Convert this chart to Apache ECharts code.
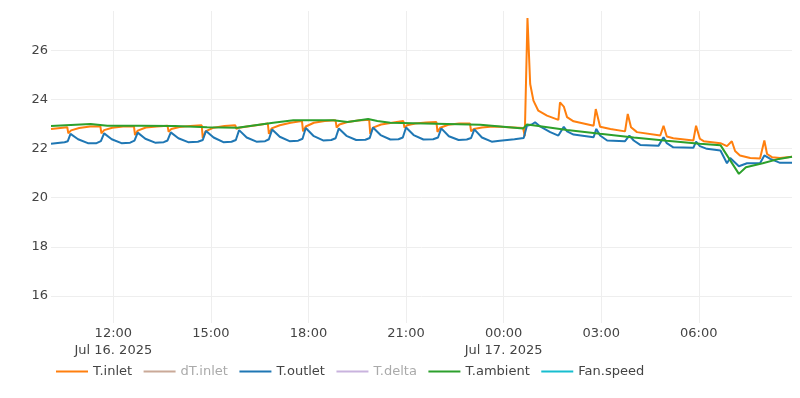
<!DOCTYPE html>
<html>
<head>
<meta charset="utf-8">
<title>temperatures</title>
<script src="https://cdn.jsdelivr.net/npm/echarts@6/dist/echarts.min.js"></script>
<style>
  html, body { margin: 0; padding: 0; background: #fff; }
  #main { width: 800px; height: 398px; }
</style>
</head>
<body>
<div id="main"></div>
<script>
var seriesNames = ['T.inlet', 'dT.inlet', 'T.outlet', 'T.delta', 'T.ambient', 'Fan.speed'];
var seriesColors = ['#ff7f0e', '#caa998', '#1f77b4', '#c9b3de', '#2ca02c', '#17becf'];
var hiddenNames = ['dT.inlet', 'T.delta'];
var xStart = '16 10:05';
var xEnd = '17 08:52';
var xTicks = ['16 12:00', '16 15:00', '16 18:00', '16 21:00', '17 00:00', '17 03:00', '17 06:00'];

// [day hh:mm, value]
var tInlet = [
  ['16 10:05', 22.80], ['16 10:35', 22.87],
  ['16 10:37', 22.62], ['16 10:42', 22.74], ['16 10:57', 22.84], ['16 11:17', 22.90], ['16 11:36', 22.91],
  ['16 11:38', 22.62], ['16 11:43', 22.75], ['16 11:58', 22.85], ['16 12:18', 22.90], ['16 12:38', 22.91],
  ['16 12:40', 22.55], ['16 12:45', 22.73], ['16 13:00', 22.86], ['16 13:20', 22.90], ['16 13:40', 22.93],
  ['16 13:42', 22.68], ['16 13:47', 22.80], ['16 14:02', 22.88], ['16 14:22', 22.92], ['16 14:43', 22.95],
  ['16 14:45', 22.42], ['16 14:50', 22.70], ['16 15:05', 22.85], ['16 15:25', 22.92], ['16 15:45', 22.95],
  ['16 15:47', 22.80], ['16 15:52', 22.85], ['16 16:07', 22.90], ['16 16:27', 22.96], ['16 16:45', 23.02],
  ['16 16:47', 22.60], ['16 16:52', 22.82], ['16 17:07', 22.95], ['16 17:27', 23.05], ['16 17:48', 23.12],
  ['16 17:50', 22.70], ['16 17:55', 22.90], ['16 18:10', 23.05], ['16 18:30', 23.12], ['16 18:50', 23.15],
  ['16 18:52', 22.85], ['16 18:57', 22.98], ['16 19:12', 23.08], ['16 19:32', 23.14], ['16 19:52', 23.17],
  ['16 19:54', 22.60], ['16 19:59', 22.85], ['16 20:14', 22.98], ['16 20:34', 23.05], ['16 20:55', 23.12],
  ['16 20:57', 22.85], ['16 21:02', 22.95], ['16 21:17', 23.02], ['16 21:37', 23.06], ['16 21:56', 23.08],
  ['16 21:58', 22.68], ['16 22:03', 22.85], ['16 22:18', 22.97], ['16 22:38', 23.02], ['16 22:58', 23.02],
  ['16 23:00', 22.70], ['16 23:05', 22.80], ['16 23:20', 22.86], ['16 23:40', 22.90], ['16 23:53', 22.89],
  ['17 00:36', 22.84], ['17 00:39', 22.50], ['17 00:44', 27.31], ['17 00:49', 24.63], ['17 00:55', 23.95],
  ['17 01:04', 23.54], ['17 01:20', 23.34], ['17 01:41', 23.17], ['17 01:44', 23.88], ['17 01:51', 23.71],
  ['17 01:57', 23.28], ['17 02:09', 23.11], ['17 02:46', 22.93], ['17 02:50', 23.61], ['17 02:58', 22.89],
  ['17 03:17', 22.80], ['17 03:44', 22.70], ['17 03:49', 23.41], ['17 03:55', 22.87], ['17 04:06', 22.67],
  ['17 04:49', 22.53], ['17 04:55', 22.93], ['17 05:01', 22.49], ['17 05:13', 22.42], ['17 05:50', 22.33],
  ['17 05:55', 22.93], ['17 06:02', 22.40], ['17 06:09', 22.30], ['17 06:40', 22.22], ['17 06:52', 22.10],
  ['17 07:01', 22.30], ['17 07:07', 21.90], ['17 07:16', 21.72], ['17 07:35', 21.62], ['17 07:53', 21.60],
  ['17 08:01', 22.33], ['17 08:06', 21.78], ['17 08:15', 21.65], ['17 08:30', 21.62], ['17 08:52', 21.67]
];

var tOutlet = [
  ['16 10:05', 22.20], ['16 10:30', 22.26], ['16 10:36', 22.30],
  ['16 10:41', 22.60], ['16 10:55', 22.38], ['16 11:13', 22.22], ['16 11:29', 22.22], ['16 11:37', 22.30],
  ['16 11:43', 22.62], ['16 11:57', 22.38], ['16 12:15', 22.22], ['16 12:31', 22.24], ['16 12:39', 22.32],
  ['16 12:45', 22.65], ['16 12:59', 22.40], ['16 13:17', 22.24], ['16 13:33', 22.26], ['16 13:40', 22.33],
  ['16 13:46', 22.66], ['16 14:00', 22.42], ['16 14:18', 22.26], ['16 14:36', 22.28], ['16 14:45', 22.35],
  ['16 14:51', 22.72], ['16 15:05', 22.45], ['16 15:23', 22.26], ['16 15:38', 22.28], ['16 15:46', 22.35],
  ['16 15:52', 22.75], ['16 16:06', 22.45], ['16 16:24', 22.28], ['16 16:40', 22.30], ['16 16:47', 22.38],
  ['16 16:53', 22.78], ['16 17:07', 22.48], ['16 17:25', 22.30], ['16 17:41', 22.32], ['16 17:49', 22.40],
  ['16 17:55', 22.84], ['16 18:09', 22.52], ['16 18:27', 22.33], ['16 18:42', 22.35], ['16 18:50', 22.42],
  ['16 18:56', 22.82], ['16 19:10', 22.52], ['16 19:28', 22.35], ['16 19:45', 22.36], ['16 19:53', 22.43],
  ['16 19:59', 22.86], ['16 20:13', 22.55], ['16 20:31', 22.37], ['16 20:46', 22.38], ['16 20:54', 22.45],
  ['16 21:00', 22.86], ['16 21:14', 22.55], ['16 21:32', 22.37], ['16 21:50', 22.38], ['16 21:59', 22.45],
  ['16 22:05', 22.82], ['16 22:19', 22.50], ['16 22:37', 22.35], ['16 22:52', 22.37], ['16 23:00', 22.43],
  ['16 23:06', 22.78], ['16 23:20', 22.45], ['16 23:38', 22.28], ['16 23:53', 22.32], ['17 00:20', 22.38],
  ['17 00:37', 22.43], ['17 00:43', 22.93], ['17 00:52', 22.98], ['17 00:58', 23.07], ['17 01:08', 22.89],
  ['17 01:26', 22.67], ['17 01:41', 22.53], ['17 01:51', 22.89], ['17 01:57', 22.70], ['17 02:09', 22.57],
  ['17 02:46', 22.46], ['17 02:51', 22.80], ['17 02:58', 22.53], ['17 03:11', 22.33], ['17 03:44', 22.30],
  ['17 03:52', 22.53], ['17 04:00', 22.33], ['17 04:12', 22.15], ['17 04:46', 22.12], ['17 04:55', 22.46],
  ['17 05:01', 22.22], ['17 05:13', 22.05], ['17 05:50', 22.03], ['17 05:55', 22.28], ['17 06:02', 22.10],
  ['17 06:15', 21.99], ['17 06:40', 21.92], ['17 06:52', 21.40], ['17 06:58', 21.62], ['17 07:14', 21.28],
  ['17 07:29', 21.40], ['17 07:53', 21.40], ['17 08:01', 21.72], ['17 08:12', 21.58], ['17 08:30', 21.42],
  ['17 08:52', 21.42]
];

var tAmbient = [
  ['16 10:05', 22.92], ['16 11:18', 23.00], ['16 11:49', 22.93], ['16 12:50', 22.93], ['16 13:54', 22.92],
  ['16 14:53', 22.87], ['16 15:49', 22.85], ['16 16:55', 23.05], ['16 17:32', 23.15], ['16 18:46', 23.15],
  ['16 19:12', 23.08], ['16 19:50', 23.20], ['16 20:07', 23.12], ['16 20:31', 23.05], ['16 22:16', 23.00],
  ['16 23:17', 22.97], ['17 00:36', 22.82], ['17 00:43', 22.98], ['17 01:01', 22.93], ['17 01:57', 22.76],
  ['17 02:58', 22.60], ['17 04:00', 22.45], ['17 05:01', 22.32], ['17 06:02', 22.20], ['17 06:40', 22.14],
  ['17 07:14', 20.97], ['17 07:27', 21.24], ['17 07:58', 21.40], ['17 08:28', 21.58], ['17 08:52', 21.67]
];

var dtInlet = [];
var tDelta = [];
var fanSpeed = [];

function toTime(s) {
  var d = parseInt(s.slice(0, 2), 10);
  var h = parseInt(s.slice(3, 5), 10);
  var m = parseInt(s.slice(6, 8), 10);
  return new Date(2025, 6, d, h, m).getTime();
}

function toPoints(arr) {
  return arr.map(function (p) { return [toTime(p[0]), p[1]]; });
}

function pad(n) { return n < 10 ? '0' + n : '' + n; }

var font = 'DejaVu Sans';
var allData = [tInlet, dtInlet, tOutlet, tDelta, tAmbient, fanSpeed];
var tickValues = xTicks.map(toTime);

var series = seriesNames.map(function (name, i) {
  return {
    name: name,
    type: 'line',
    symbol: 'none',
    data: toPoints(allData[i]),
    lineStyle: { width: 2, color: seriesColors[i] },
    itemStyle: { color: seriesColors[i] },
    emphasis: { disabled: true }
  };
});

var chart = echarts.init(document.getElementById('main'));
chart.setOption({
  animation: false,
  backgroundColor: '#fff',
  grid: { left: 51, right: 8, top: 11, bottom: 75 },
  legend: {
    left: 51,
    top: 360,
    icon: 'rect',
    itemWidth: 32,
    itemHeight: 2,
    itemGap: 11.5,
    textStyle: { fontFamily: font, fontSize: 13, color: '#444' },
    data: seriesNames.map(function (n) {
      if (hiddenNames.indexOf(n) >= 0) {
        return { name: n, textStyle: { color: '#aaa' } };
      }
      return { name: n };
    })
  },
  xAxis: {
    type: 'value',
    min: toTime(xStart),
    max: toTime(xEnd),
    axisLine: { show: false },
    axisTick: { show: false, customValues: tickValues },
    splitLine: { show: true, lineStyle: { color: '#eee', width: 1 } },
    axisLabel: {
      customValues: tickValues,
      margin: 2,
      color: '#444',
      fontFamily: font,
      fontSize: 13,
      lineHeight: 17,
      formatter: function (val) {
        var d = new Date(val);
        var s = pad(d.getHours()) + ':' + pad(d.getMinutes());
        if (d.getHours() === 0 || (d.getDate() === 16 && d.getHours() === 12)) {
          s += '\nJul ' + d.getDate() + '. 2025';
        }
        return s;
      }
    }
  },
  yAxis: {
    type: 'value',
    min: 14.9,
    max: 27.6,
    minInterval: 2,
    maxInterval: 2,
    axisLine: { show: false },
    axisTick: { show: false },
    splitLine: { show: true, showMinLine: false, showMaxLine: false, lineStyle: { color: '#eee', width: 1 } },
    axisLabel: {
      showMinLabel: false,
      showMaxLabel: false,
      margin: 3,
      color: '#444',
      fontFamily: font,
      fontSize: 13
    }
  },
  series: series
});
</script>
</body>
</html>
